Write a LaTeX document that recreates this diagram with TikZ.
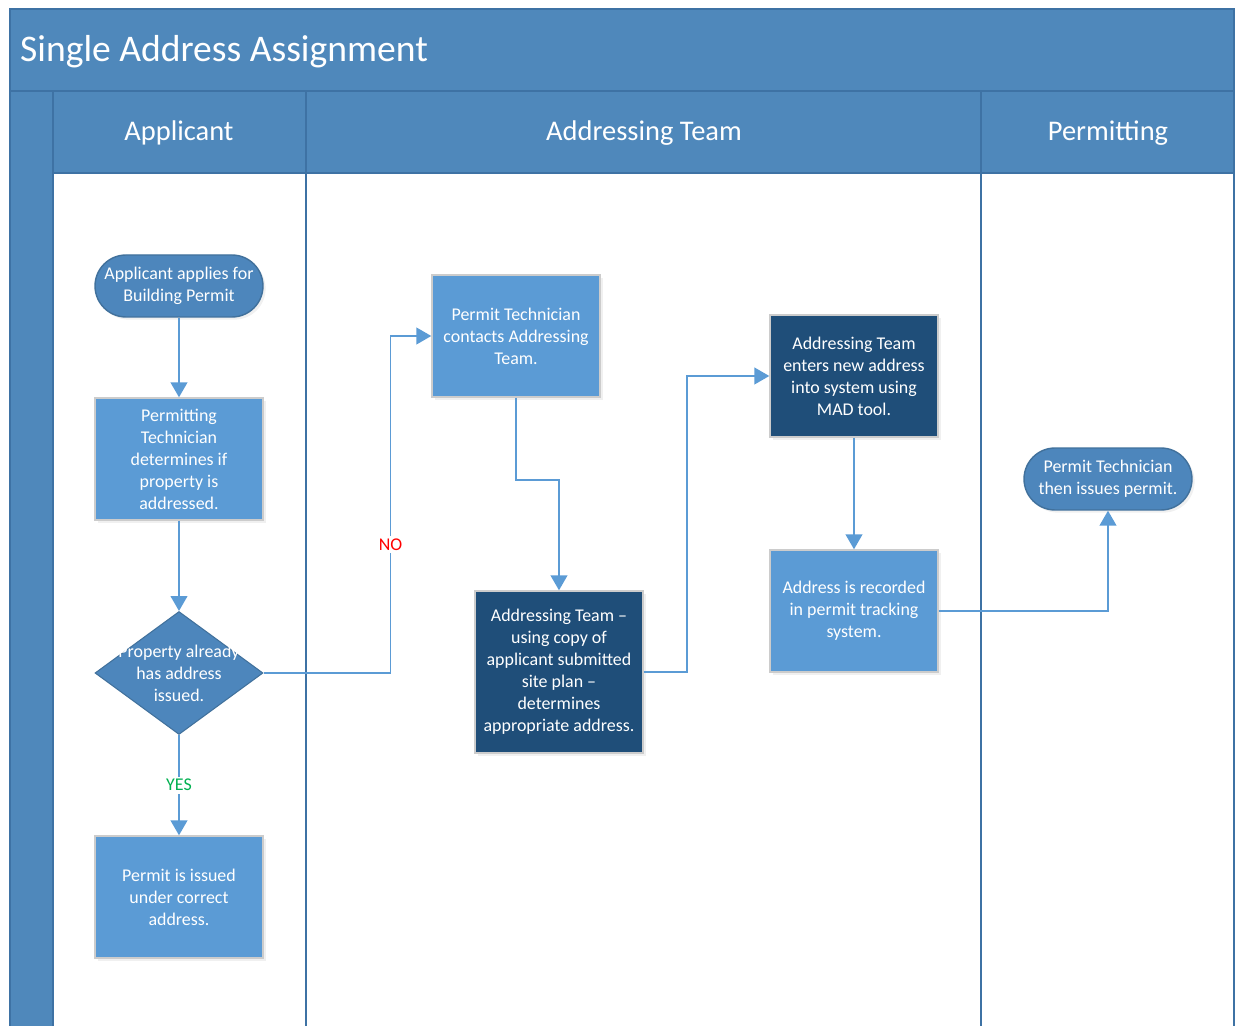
\documentclass[tikz,border=0pt]{standalone}
\usepackage{fontspec}
\setmainfont{Carlito}
\usetikzlibrary{shapes.geometric,arrows.meta,shadows}

\definecolor{laneblue}{HTML}{4F88BB}
\definecolor{lineblue}{HTML}{3E72A4}
\definecolor{boxblue}{HTML}{5B9BD5}
\definecolor{darkbox}{HTML}{1F4E79}
\definecolor{termblue}{HTML}{4D86BC}
\definecolor{termline}{HTML}{41719C}
\definecolor{nored}{HTML}{FF0000}
\definecolor{yesgreen}{HTML}{00B050}

\tikzset{
  boxtext/.style={text=white, align=center, font=\fontsize{10.2pt}{12.5pt}\selectfont},
  process/.style={boxtext, rectangle, fill=boxblue, draw=gray!40, line width=0.8pt,
    minimum width=3.36cm, minimum height=2.44cm, inner sep=2pt,
    drop shadow={opacity=0.12, shadow xshift=1.5pt, shadow yshift=-1.5pt}},
  darkprocess/.style={process, fill=darkbox},
  terminal/.style={boxtext, rectangle, rounded corners=0.62cm, fill=termblue, draw=termline,
    line width=0.8pt, minimum width=3.36cm, minimum height=1.24cm, inner sep=1pt,
    drop shadow={opacity=0.12, shadow xshift=1.5pt, shadow yshift=-1.5pt}},
  decision/.style={diamond, fill=termblue, draw=termline, line width=0.6pt,
    minimum width=3.36cm, minimum height=2.46cm, inner sep=0pt},
  flow/.style={draw=boxblue, line width=1.1pt, -{Triangle[length=8.5pt, width=9.5pt]}},
  lanehead/.style={text=white, font=\fontsize{16.2pt}{19pt}\selectfont},
  lane/.style={draw=lineblue, line width=1pt}
}

\begin{document}
\begin{tikzpicture}[x=0.02cm, y=-0.02cm]
\useasboundingbox (0,0) rectangle (1235,1026);
% swimlane frame
\fill[laneblue] (10,9) rectangle (1234,173);
\fill[laneblue] (10,91) rectangle (53,1026);
\draw[lane] (10,1026) -- (10,9) -- (1234,9) -- (1234,1026);
\draw[lane] (10,91) -- (1234,91);
\draw[lane] (53,173) -- (1234,173);
\foreach \x in {53,306,981} \draw[lane] (\x,91) -- (\x,1026);
\node[text=white, anchor=west, font=\fontsize{21.4pt}{25pt}\selectfont] (title) at (14,52) {Single Address Assignment};
\node[lanehead] (applicant) at (179,133) {Applicant};
\node[lanehead] (team) at (644,133) {Addressing Team};
\node[lanehead] (permitting) at (1108,133) {Permitting};

% applicant lane
\node[terminal] (apply) at (179,286) {Applicant applies for\\Building Permit};
\node[process] (check) at (179,459) {Permitting\\Technician\\determines if\\property is\\addressed.};
\node[decision, label={[boxtext]center:Property already\\has address\\issued.}] (addressed) at (179,673) {};
\node[process] (issued) at (179,897) {Permit is issued\\under correct\\address.};

% addressing team lane
\node[process] (contact) at (516,336) {Permit Technician\\contacts Addressing\\Team.};
\node[darkprocess, minimum height=3.24cm] (determine) at (559,672) {Addressing Team --\\using copy of\\applicant submitted\\site plan --\\determines\\appropriate address.};
\node[darkprocess] (enter) at (854,376) {Addressing Team\\enters new address\\into system using\\MAD tool.};
\node[process] (record) at (854,611) {Address is recorded\\in permit tracking\\system.};

% permitting lane
\node[terminal] (issue) at (1108,479) {Permit Technician\\then issues permit.};

\draw[flow] (apply) -- (check);
\draw[flow] (check) -- (addressed);
\draw[flow] (addressed.east) -- ++(127,0) |- node[pos=0.19, fill=white, text=nored, inner sep=1.5pt, font=\fontsize{10.2pt}{12pt}\selectfont] {NO} (contact.west);
\draw[flow] (addressed) -- node[fill=white, text=yesgreen, inner sep=1.5pt, font=\fontsize{10.2pt}{12pt}\selectfont] {YES} (issued);
\draw[flow] (contact.south) -- ++(0,82) -| (determine.north);
\draw[flow] (determine.east) -- ++(43,0) |- (enter.west);
\draw[flow] (enter) -- (record);
\draw[flow] (record.east) -| (issue.south);
\end{tikzpicture}
\end{document}
